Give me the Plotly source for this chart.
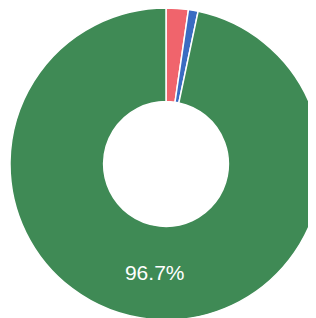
import plotly.graph_objects as go

labels = ["Red", "Blue", "Green"]
values = [2.3, 1.0, 96.7]
texts = ["", "", "96.7%"]
colors = ["#f0646c", "#3a6cc2", "#3f8a55"]

fig = go.Figure(go.Pie(
    labels=labels, values=values, hole=0.40, sort=False,
    direction="clockwise", rotation=0,
    domain=dict(x=[2 / 316, 314 / 316], y=[6 / 318, 1]),
    marker=dict(colors=colors, line=dict(color="white", width=1.5)),
    text=texts, textinfo="text", textposition="inside",
    insidetextfont=dict(color="white", size=21, family="Liberation Sans"),
    showlegend=False, hoverinfo="skip",
))
fig.update_layout(width=316, height=318, margin=dict(l=0, r=0, t=0, b=0),
                  paper_bgcolor="white", plot_bgcolor="white")
fig.write_html("out.html")
